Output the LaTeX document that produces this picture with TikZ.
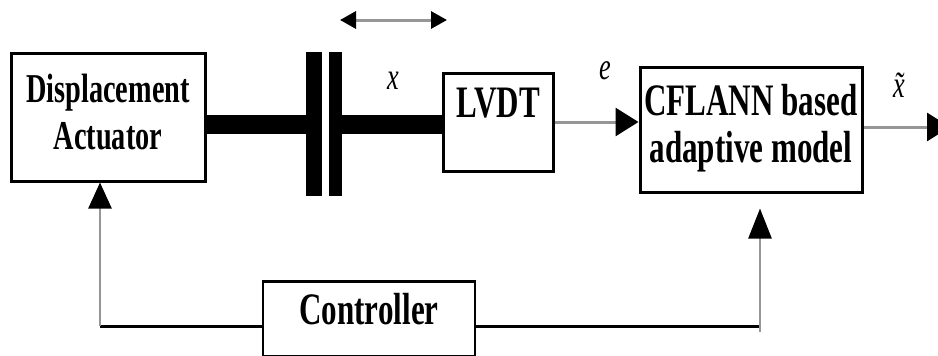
\documentclass[tikz,border=0pt]{standalone}
\usepackage{fontspec}
\setmainfont{Liberation Serif}
\usepackage{graphicx}
\usepackage{tikz}
\usetikzlibrary{positioning, calc, arrows.meta}
\definecolor{wirec}{RGB}{150,150,150}
\newcommand{\sqz}[1]{\scalebox{0.69}[1]{#1}}

\begin{document}
\begin{tikzpicture}[x=1pt, y=-1pt,
  % plain black-framed blocks
  blockbox/.style={draw, line width=3pt, inner sep=0pt, align=center,
                   font=\fontsize{45}{47}\selectfont\bfseries},
  plate/.style={fill=black, inner sep=0pt, minimum width=#1, minimum height=144},
  shaft/.style={line width=19pt},
  fbwire/.style={line width=3pt},
  graywire/.style={draw=wirec, line width=3pt},
  sig/.style={font=\fontsize{38}{38}\selectfont\itshape, inner sep=0pt},
  tip/.style={-{Triangle[length=#1, width=28pt, color=black]}},
]

\useasboundingbox (0,0) rectangle (938,356);
\clip (0,0) rectangle (938,356);

%% ── blocks ───────────────────────────────────────────────────────
\node[blockbox, minimum width=194, minimum height=128, font=\fontsize{41}{47}\selectfont\bfseries]
  (act) at (108,117) {\sqz{\begin{tabular}{@{}c@{}}Displacement\\Actuator\end{tabular}}};
\node[blockbox, minimum width=110, text height=44pt, text depth=54pt] (lvdt) at (498,122) {\sqz{LVDT}};
\node[blockbox, minimum width=222, minimum height=125] (cfl) at (751,129.5)
  {\sqz{\begin{tabular}{@{}c@{}}CFLANN based\\adaptive model\end{tabular}}};
\node[blockbox, line width=2.5pt, minimum width=212, text height=43pt, text depth=32pt] (ctrl) at (369,280) [anchor=north] {\sqz{Controller}};

%% ── coupling plates and shafts ───────────────────────────────────
\node[plate=16] (plL) at (314,124) {};
\node[plate=13] (plR) at (335.5,124) {};
\draw[shaft] (act.east |- plL.west) -- (plL.west);
\draw[shaft] (plR.east) -- (lvdt.west |- plR.east);

% travel of the core
\coordinate (mvL) at (340,20);
\coordinate (mvR) at (447,20);
\draw[graywire, {Triangle[length=16pt, width=17pt, color=black]}-{Triangle[length=16pt, width=17pt, color=black]}] (mvL) -- (mvR);
\node[sig] (lx) at (393,81) {\sqz{x}};

%% ── signal path ──────────────────────────────────────────────────
\draw[graywire, tip=23pt] (lvdt.east) -- (lvdt.east -| cfl.west);
\node[sig] (le) at (605,71) {\sqz{e}};
\coordinate (out) at (950,127);
\draw[graywire, tip=23pt] (cfl.east |- out) -- (out);
\node[sig] (lxh) at (899,85) {\sqz{\~{x}}};

%% ── feedback through the controller ──────────────────────────────
\coordinate (fbL) at (100,326);
\coordinate (fbR) at (760,326);
\draw[fbwire] (fbL) -- (fbL -| ctrl.west);
\draw[fbwire] (ctrl.east |- fbR) -- (fbR);
\draw[graywire, line width=2.5pt, -{Triangle[length=26pt, width=23pt, color=black]}] (fbL) -- (fbL |- act.south);
\draw[graywire, line width=2.5pt, -{Triangle[length=30pt, width=23pt, color=black]}, shorten >=15pt] ($(fbR)+(0,6)$) -- (fbR |- cfl.south);

\end{tikzpicture}
\end{document}
